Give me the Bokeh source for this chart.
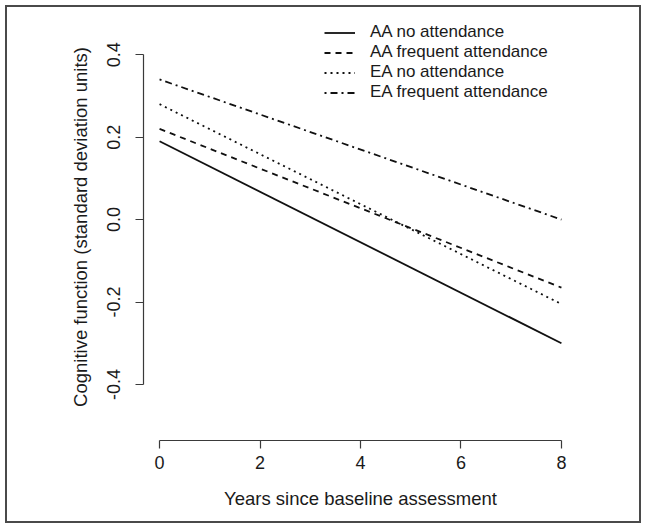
from bokeh.plotting import figure
from bokeh.models import Range1d, FixedTicker
from bokeh.layouts import column
from bokeh.embed import file_html
from bokeh.resources import INLINE

# ---- data ----
years = [0, 8]
aa_no_attendance = [0.19, -0.30]
aa_frequent_attendance = [0.22, -0.165]
ea_no_attendance = [0.28, -0.205]
ea_frequent_attendance = [0.34, 0.00]

series_labels = ["AA no attendance", "AA frequent attendance",
                 "EA no attendance", "EA frequent attendance"]
x_ticks = [0, 2, 4, 6, 8]
y_ticks = [-0.4, -0.2, 0.0, 0.2, 0.4]
y_tick_labels = ["-0.4", "-0.2", "0.0", "0.2", "0.4"]

x_label = "Years since baseline assessment"
y_label = "Cognitive function (standard deviation units)"

FONT = "Liberation Sans"
FS = "18px"
FS_TITLE = "18.5px"
INK = "#1a1a1a"
AXC = "#3a3a3a"

p = figure(width=646, height=528,
           x_range=Range1d(-0.32, 8.32), y_range=Range1d(-0.536, 0.5),
           output_backend="svg", toolbar_location=None,
           min_border_left=143, min_border_right=69,
           min_border_top=13, min_border_bottom=88)

p.background_fill_color = "white"
p.border_fill_color = "white"
p.border_fill_alpha = 0.0
p.outline_line_color = None
p.xgrid.visible = False
p.ygrid.visible = False

styles = [("solid", aa_no_attendance),
          ("6 5", aa_frequent_attendance),
          ("2 4", ea_no_attendance),
          ("2 4 7 4", ea_frequent_attendance)]
for (dash, vals), lab in zip(styles, series_labels):
    p.line(years, vals, line_color="#111111", line_width=1.8,
           line_dash=dash, legend_label=lab)

for ax in (p.xaxis[0], p.yaxis[0]):
    ax.axis_line_color = AXC
    ax.axis_line_width = 1.2
    ax.major_tick_line_color = AXC
    ax.major_tick_line_width = 1.2
    ax.major_tick_out = 8
    ax.major_tick_in = 0
    ax.minor_tick_line_color = None
    ax.major_label_text_font = FONT
    ax.major_label_text_font_size = FS
    ax.major_label_text_color = INK
    ax.axis_label_text_font = FONT
    ax.axis_label_text_font_size = FS_TITLE
    ax.axis_label_text_font_style = "normal"
    ax.axis_label_text_color = INK

p.xaxis.ticker = FixedTicker(ticks=x_ticks)
p.xaxis.bounds = (x_ticks[0], x_ticks[-1])
p.xaxis.axis_label = x_label
p.xaxis.major_label_standoff = 7
p.xaxis.axis_label_standoff = 16

p.yaxis.ticker = FixedTicker(ticks=y_ticks)
p.yaxis.major_label_overrides = {t: l for t, l in zip(y_ticks, y_tick_labels)}
p.yaxis.bounds = (y_ticks[0], y_ticks[-1])
p.yaxis.major_label_orientation = "vertical"
p.yaxis.axis_label = y_label
p.yaxis.major_label_standoff = 15
p.yaxis.axis_label_standoff = 14

lg = p.legend[0]
lg.location = (181, 338)
lg.border_line_alpha = 0
lg.background_fill_alpha = 0
lg.padding = 0
lg.margin = 0
lg.spacing = -2
lg.glyph_width = 31
lg.glyph_height = 19
lg.label_height = 19
lg.label_standoff = 15
lg.label_text_font = FONT
lg.label_text_font_size = "17px"
lg.label_text_color = INK

layout = column(p, styles={"outline": "2px solid #4a4a4a",
                           "outline-offset": "-7px",
                           "background-color": "white"})

open("out.html", "w").write(file_html(layout, INLINE))
